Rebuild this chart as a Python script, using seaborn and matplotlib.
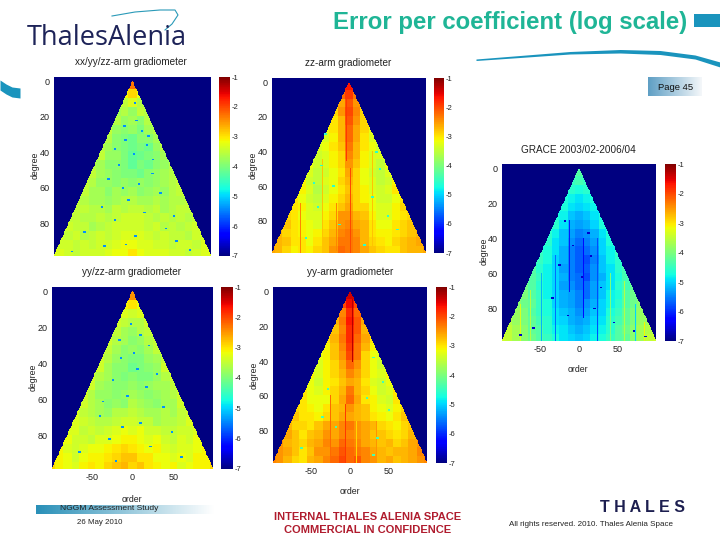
import numpy as np
import seaborn as sns
import matplotlib.pyplot as plt
from matplotlib.colors import LinearSegmentedColormap

# coarse values, log10 error per block
# row i = degrees 5i..5i+4, cells are 10 orders wide, centred on order 0
xxyyzz_values = [
    [-2.3],
    [-3.1, -2.9, -3.2],
    [-3.5, -3.3, -3.6],
    [-3.7, -3.6, -3.8, -3.5, -3.6],
    [-3.6, -3.8, -3.7, -3.9, -3.6],
    [-3.5, -3.8, -3.9, -3.8, -4.0, -3.7, -3.6],
    [-3.6, -3.9, -4.0, -4.1, -3.9, -3.9, -3.7],
    [-3.6, -3.7, -3.9, -4.0, -4.1, -4.0, -4.1, -3.8, -3.6],
    [-3.5, -3.8, -3.8, -4.0, -4.2, -4.1, -4.0, -3.9, -3.7],
    [-3.6, -3.7, -3.9, -3.9, -4.0, -4.2, -4.0, -4.1, -3.9, -3.8, -3.6],
    [-3.5, -3.7, -3.8, -3.9, -4.0, -4.0, -4.1, -3.9, -3.8, -3.7, -3.6],
    [-3.5, -3.6, -3.8, -3.8, -3.9, -3.8, -3.9, -3.8, -3.9, -3.8, -3.7, -3.6, -3.5],
    [-3.5, -3.7, -3.7, -3.9, -3.7, -3.8, -3.7, -3.9, -3.8, -3.7, -3.8, -3.6, -3.5],
    [-3.5, -3.6, -3.7, -3.7, -3.8, -3.7, -3.6, -3.6, -3.7, -3.7, -3.6, -3.7, -3.6, -3.6, -3.5],
    [-3.5, -3.5, -3.6, -3.6, -3.7, -3.5, -3.6, -3.5, -3.5, -3.6, -3.5, -3.7, -3.6, -3.5, -3.5],
    [-3.5, -3.5, -3.6, -3.6, -3.5, -3.6, -3.5, -3.4, -3.4, -3.4, -3.5, -3.6, -3.5, -3.6, -3.5, -3.6, -3.5],
    [-3.4, -3.5, -3.5, -3.7, -3.6, -3.5, -3.4, -3.4, -3.4, -3.4, -3.5, -3.4, -3.6, -3.5, -3.6, -3.5, -3.4],
    [-3.4, -3.5, -3.4, -3.6, -3.5, -3.4, -3.5, -3.4, -3.3, -3.3, -3.3, -3.4, -3.5, -3.4, -3.5, -3.5, -3.6, -3.4, -3.4],
    [-3.4, -3.4, -3.5, -3.4, -3.5, -3.4, -3.4, -3.3, -3.2, -3.2, -3.3, -3.3, -3.4, -3.4, -3.5, -3.4, -3.4, -3.5, -3.3],
    [-3.3, -3.3, -3.4, -3.5, -3.4, -3.4, -3.4, -3.3, -3.2, -3.2, -3.0, -3.2, -3.3, -3.3, -3.3, -3.4, -3.4, -3.5, -3.4, -3.3, -3.3],
]
zz_values = [
    [-1.7],
    [-2.2, -1.9, -2.3],
    [-2.6, -2.1, -2.5],
    [-2.9, -2.5, -2.0, -2.4, -2.9],
    [-3.0, -2.7, -2.1, -2.5, -2.9],
    [-3.2, -3.0, -2.7, -2.2, -2.6, -2.9, -3.2],
    [-3.3, -3.1, -2.7, -2.2, -2.6, -3.0, -3.3],
    [-3.3, -3.2, -3.0, -2.8, -2.3, -2.7, -3.0, -3.2, -3.4],
    [-3.4, -3.3, -3.1, -2.9, -2.4, -2.7, -3.1, -3.3, -3.3],
    [-3.2, -3.4, -3.3, -3.1, -2.9, -2.5, -2.8, -3.1, -3.3, -3.5, -3.2],
    [-3.3, -3.5, -3.4, -3.2, -3.0, -2.6, -2.9, -3.2, -3.4, -3.5, -3.3],
    [-3.1, -3.4, -3.5, -3.3, -3.2, -2.9, -2.7, -2.9, -3.2, -3.3, -3.5, -3.4, -3.1],
    [-3.1, -3.3, -3.6, -3.4, -3.2, -3.0, -2.8, -2.9, -3.1, -3.3, -3.4, -3.3, -3.0],
    [-3.0, -3.2, -3.4, -3.5, -3.3, -3.1, -2.9, -2.7, -2.9, -3.1, -3.2, -3.4, -3.4, -3.2, -3.0],
    [-3.0, -3.1, -3.3, -3.4, -3.2, -3.0, -2.8, -2.6, -2.9, -2.9, -3.2, -3.3, -3.3, -3.1, -2.9],
    [-2.9, -3.0, -3.2, -3.3, -3.3, -3.1, -2.9, -2.5, -2.5, -2.7, -2.8, -3.1, -3.3, -3.3, -3.1, -3.0, -2.9],
    [-2.8, -3.0, -3.1, -3.2, -3.3, -3.0, -2.8, -2.5, -2.4, -2.6, -2.7, -3.0, -3.2, -3.2, -3.0, -2.9, -2.8],
    [-2.7, -2.9, -3.0, -3.1, -3.2, -3.1, -2.9, -2.7, -2.4, -2.3, -2.5, -2.7, -3.0, -3.1, -3.1, -3.0, -2.9, -2.8, -2.7],
    [-2.7, -2.8, -3.0, -3.0, -3.2, -3.0, -2.8, -2.6, -2.3, -2.3, -2.4, -2.7, -2.9, -3.0, -3.1, -2.9, -2.8, -2.7, -2.6],
    [-2.6, -2.7, -2.9, -3.1, -3.0, -3.1, -2.9, -2.8, -2.5, -2.2, -2.3, -2.4, -2.6, -2.8, -2.9, -3.0, -3.0, -2.8, -2.7, -2.7, -2.6],
]
grace_values = [
    [-4.3],
    [-4.5, -4.4, -4.5],
    [-4.6, -4.7, -4.6],
    [-4.7, -4.8, -4.9, -4.8, -4.7],
    [-4.7, -4.9, -5.0, -4.9, -4.8],
    [-4.7, -4.8, -5.1, -5.2, -5.1, -4.9, -4.7],
    [-4.6, -4.9, -5.2, -5.3, -5.2, -5.0, -4.7],
    [-4.6, -4.8, -5.1, -5.3, -5.5, -5.4, -5.2, -4.9, -4.7],
    [-4.6, -4.9, -5.1, -5.4, -5.6, -5.5, -5.3, -5.0, -4.7],
    [-4.5, -4.7, -4.9, -5.2, -5.5, -5.7, -5.6, -5.4, -5.0, -4.8, -4.5],
    [-4.5, -4.7, -5.0, -5.2, -5.5, -5.7, -5.8, -5.5, -5.1, -4.8, -4.6],
    [-4.3, -4.6, -4.8, -5.0, -5.3, -5.5, -5.7, -5.7, -5.4, -5.1, -4.9, -4.6, -4.4],
    [-4.3, -4.5, -4.8, -5.0, -5.2, -5.5, -5.6, -5.8, -5.4, -5.2, -4.9, -4.7, -4.4],
    [-4.1, -4.3, -4.6, -4.8, -5.0, -5.3, -5.4, -5.6, -5.6, -5.3, -5.1, -4.9, -4.6, -4.4, -4.2],
    [-4.0, -4.3, -4.5, -4.8, -5.0, -5.2, -5.3, -5.5, -5.6, -5.3, -5.1, -4.8, -4.7, -4.3, -4.1],
    [-3.9, -4.1, -4.2, -4.5, -4.7, -5.0, -5.2, -5.3, -5.5, -5.4, -5.2, -5.0, -4.8, -4.6, -4.3, -4.1, -3.9],
    [-3.8, -4.0, -4.3, -4.5, -4.7, -4.9, -5.1, -5.2, -5.4, -5.3, -5.1, -5.0, -4.7, -4.5, -4.2, -4.0, -3.8],
    [-3.6, -3.8, -4.0, -4.2, -4.4, -4.6, -4.9, -5.0, -5.2, -5.3, -5.2, -5.0, -4.9, -4.6, -4.4, -4.2, -4.0, -3.8, -3.7],
    [-3.5, -3.7, -3.9, -4.2, -4.3, -4.6, -4.8, -4.9, -5.1, -5.2, -5.1, -4.9, -4.8, -4.6, -4.3, -4.1, -3.9, -3.7, -3.6],
    [-3.4, -3.5, -3.7, -3.9, -4.1, -4.3, -4.5, -4.7, -4.9, -5.0, -5.1, -5.0, -4.8, -4.7, -4.5, -4.3, -4.2, -3.9, -3.7, -3.5, -3.4],
]
yyzz_values = [
    [-2.5],
    [-3.1, -3.0, -3.2],
    [-3.3, -3.4, -3.3],
    [-3.4, -3.5, -3.6, -3.6, -3.4],
    [-3.5, -3.7, -3.8, -3.6, -3.5],
    [-3.4, -3.6, -3.7, -3.9, -3.8, -3.6, -3.5],
    [-3.5, -3.7, -3.9, -3.8, -3.9, -3.7, -3.5],
    [-3.4, -3.6, -3.8, -3.9, -4.0, -4.0, -3.8, -3.7, -3.5],
    [-3.4, -3.7, -3.9, -3.9, -4.1, -4.0, -3.9, -3.8, -3.4],
    [-3.4, -3.6, -3.7, -3.9, -4.0, -3.9, -4.0, -4.0, -3.8, -3.6, -3.4],
    [-3.4, -3.7, -3.8, -3.9, -3.9, -3.8, -3.9, -3.8, -3.7, -3.7, -3.5],
    [-3.4, -3.6, -3.8, -3.8, -3.9, -3.8, -3.7, -3.8, -3.9, -3.8, -3.7, -3.6, -3.4],
    [-3.4, -3.6, -3.7, -3.9, -3.8, -3.9, -3.6, -3.7, -3.8, -3.9, -3.7, -3.7, -3.4],
    [-3.3, -3.5, -3.6, -3.7, -3.8, -3.6, -3.6, -3.5, -3.6, -3.7, -3.7, -3.6, -3.7, -3.5, -3.4],
    [-3.3, -3.4, -3.5, -3.6, -3.6, -3.5, -3.4, -3.4, -3.5, -3.5, -3.7, -3.6, -3.6, -3.5, -3.3],
    [-3.3, -3.3, -3.5, -3.4, -3.5, -3.4, -3.3, -3.2, -3.3, -3.2, -3.4, -3.4, -3.5, -3.5, -3.4, -3.4, -3.3],
    [-3.2, -3.4, -3.4, -3.5, -3.3, -3.3, -3.2, -3.1, -3.1, -3.2, -3.3, -3.2, -3.4, -3.5, -3.3, -3.4, -3.2],
    [-3.1, -3.3, -3.4, -3.3, -3.2, -3.2, -3.1, -3.0, -2.9, -3.0, -3.1, -3.2, -3.1, -3.3, -3.4, -3.3, -3.3, -3.2, -3.1],
    [-3.1, -3.2, -3.4, -3.2, -3.1, -3.1, -3.0, -2.9, -2.8, -2.8, -3.0, -3.0, -3.2, -3.2, -3.3, -3.2, -3.3, -3.1, -3.1],
    [-2.9, -3.1, -3.2, -3.3, -3.1, -3.0, -3.1, -2.9, -2.8, -2.7, -2.9, -2.8, -3.0, -3.1, -3.2, -3.1, -3.3, -3.2, -3.1, -3.1, -2.9],
]
yy_values = [
    [-1.4],
    [-2.0, -1.6, -2.0],
    [-2.4, -1.8, -2.2],
    [-2.7, -2.3, -1.7, -2.1, -2.6],
    [-2.8, -2.4, -1.8, -2.1, -2.7],
    [-3.0, -2.7, -2.3, -1.8, -2.2, -2.6, -3.0],
    [-3.1, -2.8, -2.4, -1.9, -2.3, -2.7, -3.1],
    [-3.2, -3.1, -2.8, -2.5, -2.0, -2.3, -2.9, -3.2, -3.3],
    [-3.3, -3.1, -2.9, -2.6, -2.2, -2.5, -2.9, -3.2, -3.4],
    [-3.1, -3.3, -3.1, -2.9, -2.7, -2.4, -2.6, -2.9, -3.2, -3.3, -3.1],
    [-3.2, -3.4, -3.1, -3.0, -2.8, -2.6, -2.7, -3.0, -3.3, -3.4, -3.2],
    [-3.0, -3.2, -3.3, -3.1, -2.9, -2.7, -2.3, -2.7, -2.9, -3.2, -3.4, -3.3, -3.0],
    [-3.0, -3.2, -3.2, -3.2, -2.9, -2.6, -2.2, -2.6, -3.0, -3.1, -3.3, -3.4, -3.0],
    [-2.9, -3.0, -3.1, -3.2, -3.0, -2.8, -2.7, -2.5, -2.7, -2.8, -3.1, -3.2, -3.3, -3.1, -2.9],
    [-2.8, -3.0, -3.0, -3.1, -2.9, -2.8, -2.6, -2.6, -2.7, -2.8, -3.0, -3.1, -3.2, -3.0, -2.8],
    [-2.7, -2.9, -2.9, -3.0, -2.8, -2.6, -2.6, -2.4, -2.3, -2.5, -2.6, -2.7, -2.9, -3.0, -3.1, -2.9, -2.8],
    [-2.6, -2.8, -3.0, -2.8, -2.7, -2.5, -2.6, -2.4, -2.4, -2.5, -2.6, -2.8, -2.8, -2.9, -3.0, -2.9, -2.7],
    [-2.5, -2.7, -2.8, -2.9, -2.7, -2.6, -2.4, -2.5, -2.2, -2.3, -2.4, -2.6, -2.7, -2.8, -2.7, -2.9, -2.8, -2.6, -2.5],
    [-2.5, -2.6, -2.8, -3.0, -2.8, -2.5, -2.5, -2.3, -2.1, -2.2, -2.3, -2.4, -2.6, -2.7, -2.8, -2.7, -2.7, -2.6, -2.4],
    [-2.4, -2.5, -2.7, -2.9, -3.0, -2.7, -2.6, -2.4, -2.2, -2.0, -2.2, -2.1, -2.4, -2.5, -2.7, -2.6, -2.8, -2.7, -2.6, -2.5, -2.4],
]

# single dark coefficients that stand out: degree, order
xxyyzz_dots = [(12, 3), (22, 5), (25, -10), (28, 12), (31, 20), (33, -9), (36, 18), (38, -22), (41, 2), (44, 26), (47, -17),
               (52, 25), (55, -30), (58, 8), (60, -12), (63, 35), (67, -5), (71, -38), (74, 15), (76, 52), (78, -22),
               (83, 42), (85, -60), (87, 4), (90, 55), (92, -8), (93, -35), (95, 72), (96, -76)]
zz_dots = [(30, -30), (40, 35), (48, -35), (50, 40), (58, -45), (60, -20), (66, 30), (72, -40),
           (77, 50), (82, -12), (85, 62), (90, -55), (94, 20)]
grace_dots = [(30, -18), (37, 12), (44, -8), (50, 15), (55, -25), (62, 4), (68, 28), (74, -34), (80, 20),
              (84, -14), (88, 45), (91, -58), (93, 70), (95, -75), (96, 85)]
yyzz_dots = [(18, -2), (24, 10), (27, -16), (30, 20), (34, 2), (37, -14), (43, 6), (46, 30), (49, -24), (53, 17),
             (58, -6), (61, -36), (64, 38), (69, -40), (73, 10), (75, -12), (78, 48), (82, -28), (86, 22),
             (89, -65), (92, 60), (94, -20)]
yy_dots = [(38, 30), (52, 42), (56, -28), (61, 22), (68, 50), (72, -35), (78, -18), (84, 35), (90, -62), (94, 30)]

# thin vertical streaks: order, first degree, last degree, value
zz_streaks = [(2, 50, 98, -2.0), (-3, 10, 45, -1.9), (5, 10, 45, -2.0), (14, 60, 97, -2.4), (-16, 70, 97, -2.4),
              (30, 40, 98, -2.8), (-34, 45, 98, -2.8), (9, 25, 55, -3.0), (-9, 25, 55, -3.0), (-62, 70, 98, -2.4)]
grace_streaks = [(-75, 78, 98, -3.3), (-62, 70, 98, -3.6), (-48, 60, 98, -5.2), (-30, 50, 98, -5.6), (-12, 30, 70, -6.1),
                 (6, 40, 85, -6.2), (24, 40, 98, -5.8), (40, 60, 98, -4.0), (58, 65, 98, -3.6), (72, 78, 98, -5.0),
                 (84, 88, 98, -3.1)]
yy_streaks = [(0, 40, 98, -3.0), (3, 5, 40, -1.3), (8, 75, 98, -2.9), (-6, 65, 98, -1.9), (18, 70, 98, -2.2),
              (-25, 60, 98, -2.2), (34, 75, 98, -2.5)]

degree_ticks = [0, 20, 40, 60, 80]
order_ticks = [-50, 0, 50]
cbar_ticks = [-1, -2, -3, -4, -5, -6, -7]

MAX_DEG = 98
TOP_DEG = -2
font = ['Liberation Sans', 'DejaVu Sans']
plt.rcParams['font.family'] = font
text_col = '#222222'


def build_grid(blocks, dots, dot_value, streaks=()):
    # degree rows from -2 to 98, order columns from -98 to 98, -7 is the empty corner colour
    grid = np.full((MAX_DEG - TOP_DEG + 1, 2 * MAX_DEG + 1), -7.0)
    for deg in range(0, MAX_DEG + 1):
        row = blocks[deg // 5]
        half = len(row) // 2
        for order in range(-deg, deg + 1):
            cell = int(np.clip(round(order / 10), -half, half)) + half
            grid[deg - TOP_DEG, order + MAX_DEG] = row[cell]
    for order, first, last, value in streaks:
        for deg in range(first, last + 1):
            if abs(order) <= deg:
                grid[deg - TOP_DEG, order + MAX_DEG] = value
    for deg, order in dots:
        for o in (order - 1, order, order + 1):
            grid[deg - TOP_DEG, o + MAX_DEG] = dot_value
    return grid


fig = plt.figure(figsize=(7.2, 5.4), dpi=100)


def px_axes(x0, y0, x1, y1):
    return fig.add_axes([x0 / 720, 1 - y1 / 540, (x1 - x0) / 720, (y1 - y0) / 540])


# slide furniture goes on a full page axes in pixel coordinates
page = fig.add_axes([0, 0, 1, 1], zorder=-1)
page.set_xlim(0, 720)
page.set_ylim(540, 0)
page.axis('off')


def panel(box, cbar_box, grid, show_order):
    ax = px_axes(*box)
    cax = px_axes(*cbar_box)
    sns.heatmap(grid, ax=ax, cbar_ax=cax, cmap='jet', vmin=-7, vmax=-1, xticklabels=False, yticklabels=False,
                rasterized=True)
    ax.set_yticks([d - TOP_DEG + 0.5 for d in degree_ticks])
    ax.set_yticklabels(degree_ticks, rotation=0, fontsize=6.5, color=text_col)
    if show_order:
        ax.set_xticks([o + MAX_DEG + 0.5 for o in order_ticks])
        ax.set_xticklabels(order_ticks, rotation=0, fontsize=6.5, color=text_col)
    else:
        ax.set_xticks([])
    ax.tick_params(length=0, pad=3)
    cax.set_yticks(cbar_ticks)
    cax.set_yticklabels(cbar_ticks, fontsize=5.5, color=text_col)
    cax.tick_params(length=0, pad=1)
    cax.collections[0].set_edgecolor('face')


panel((54, 77, 211, 256), (219, 77, 230, 256), build_grid(xxyyzz_values, xxyyzz_dots, -5.4), False)
panel((272, 78, 426, 253), (434, 78, 444, 253), build_grid(zz_values, zz_dots, -4.6, zz_streaks), False)
panel((502, 164, 656, 341), (665, 164, 676, 341), build_grid(grace_values, grace_dots, -6.6, grace_streaks), True)
panel((52, 287, 213, 469), (221, 287, 233, 469), build_grid(yyzz_values, yyzz_dots, -5.4), True)
panel((273, 287, 427, 463), (436, 287, 447, 463), build_grid(yy_values, yy_dots, -4.4, yy_streaks), True)

# panel titles and axis names
for x, y, s in [(131, 62, 'xx/yy/zz-arm gradiometer'), (348, 63, 'zz-arm gradiometer'),
                (578, 150, 'GRACE 2003/02-2006/04'), (132, 272, 'yy/zz-arm gradiometer'),
                (350, 272, 'yy-arm gradiometer')]:
    page.text(x, y, s, ha='center', va='center', fontsize=7.2, color=text_col)
for x, y in [(35, 165), (253, 165), (484, 251), (33, 377), (254, 375)]:
    page.text(x, y, 'degree', ha='center', va='center', rotation=90, fontsize=6.3, color=text_col)
for x, y in [(132, 499), (350, 491), (578, 369)]:
    page.text(x, y, 'order', ha='center', va='center', fontsize=6.3, color=text_col)

# header
page.text(510, 22, 'Error per coefficient (log scale)', ha='center', va='center', fontsize=17.3, fontweight='bold',
          color='#1fb596')
page.fill_between([694, 720], [14, 14], [27, 27], color='#1a94bd', lw=0)
curve_x = np.array([476, 520, 570, 620, 660, 695, 720])
curve_top = np.array([59, 55.5, 51.5, 49.5, 50.5, 55, 62])
curve_bot = np.array([60.5, 57.5, 54, 53, 54.5, 59, 67])
page.fill_between(curve_x, curve_top, curve_bot, color='#1a94bd', lw=0)

# logo
page.text(27, 38, 'ThalesAlenia', ha='left', va='center', fontsize=19.5, color='#1d2358', family=['Open Sans', 'DejaVu Sans'])
page.plot([112, 135, 160, 175, 178, 172, 165], [16, 12, 10, 10, 15, 24, 30], color='#2a9ab8', lw=0.8)
swoosh_x = np.array([0, 6, 12, 20])
page.fill_between(swoosh_x, [80, 84, 87, 88], [90, 94, 97, 98], color='#1a94bd', lw=0)

# page number box and footer
fade = LinearSegmentedColormap.from_list('fade', ['#2a90b8', '#ffffff'])
grad = np.linspace(0, 1, 64).reshape(1, -1)
page.imshow(grad, extent=(648, 702, 96, 77), cmap=LinearSegmentedColormap.from_list('p', ['#5f9fc4', '#f4f7fa']),
            aspect='auto')
page.imshow(grad, extent=(36, 215, 514, 505), cmap=fade, aspect='auto')
page.set_xlim(0, 720)
page.set_ylim(540, 0)
page.text(658, 87.5, 'Page 45', ha='left', va='center', fontsize=6.8, color='#111111')
page.text(109, 508, 'NGGM Assessment Study', ha='center', va='center', fontsize=6.1, color='#222222')
page.text(100, 522, '26 May 2010', ha='center', va='center', fontsize=5.7, color='#222222')
page.text(367.5, 517, 'INTERNAL THALES ALENIA SPACE', ha='center', va='center', fontsize=8, fontweight='bold', color='#b01c2e')
page.text(367.5, 530, 'COMMERCIAL IN CONFIDENCE', ha='center', va='center', fontsize=8, fontweight='bold', color='#b01c2e')
page.text(591, 524, 'All rights reserved. 2010. Thales Alenia Space', ha='center', va='center', fontsize=5.75, color='#222222')
page.text(642, 507, 'T H A L E S', ha='center', va='center', fontsize=11.5, fontweight='bold', color='#1d1f50')

fig.savefig('out.png', dpi=100)
